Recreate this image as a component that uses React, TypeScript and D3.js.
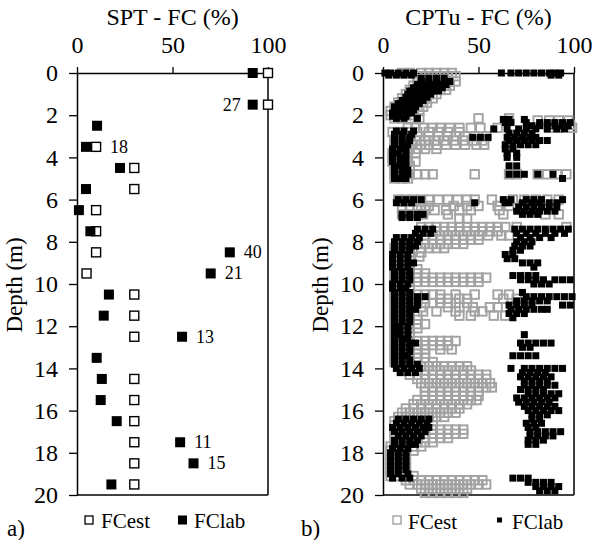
import React, { useEffect, useRef } from "react";
import * as d3 from "d3";

// ---------- Panel a) SPT ----------
const sptDepths = [0, 1.5, 2.5, 3.5, 4.5, 5.5, 6.5, 7.5, 8.5, 9.5, 10.5, 11.5, 12.5, 13.5, 14.5, 15.5, 16.5, 17.5, 18.5, 19.5];
const sptFCest: (number | null)[] = [100, 100, null, 10, 30, 30, 10, 10, 10, 5, 30, 30, 30, null, 30, 30, 30, 30, 30, 30];
const sptFClab = [92, 92, 10.5, 4.7, 22.5, 4.7, 1, 7, 80, 70, 16.7, 14, 55, 10.3, 13, 12.4, 20.8, 54, 61, 18];
const sptNoteDepths = [1.5, 3.5, 8.5, 9.5, 12.5, 17.5, 18.5];
const sptNoteTexts = ["27", "18", "40", "21", "13", "11", "15"];
const sptNoteLeft = [true, false, false, false, false, false, false];

// ---------- Panel b) CPTu : rows = [depth, FC values at that depth...] ----------
const cptuEstRows: number[][] = [
  [0.0, 10, 14, 20, 24, 28, 32, 36],
  [0.15, 18, 22, 26, 30, 34, 38],
  [0.4, 18, 22, 26, 30, 34, 38],
  [0.6, 16, 20, 24, 28, 32, 35],
  [0.8, 14, 18, 22, 26, 30, 33],
  [1.0, 12, 16, 20, 24, 28],
  [1.2, 10, 14, 18, 22, 26],
  [1.4, 8, 12, 16, 20, 23],
  [1.6, 6, 10, 14, 18, 21],
  [1.8, 4, 8, 12, 16, 19],
  [2.0, 4, 8, 12, 16],
  [2.15, 6, 10, 14, 19, 50, 66],
  [2.25, 81, 87, 92, 97],
  [2.45, 88, 93, 98],
  [2.6, 13, 17, 21, 26, 30, 35, 40, 46, 51, 60, 87, 92, 99],
  [2.8, 5, 9, 14, 18, 24, 29, 34, 40],
  [3.0, 8, 14, 19, 24, 29, 34, 38, 43, 48, 54],
  [3.2, 6, 12, 17, 22, 27, 32, 37, 42, 47, 52],
  [3.4, 6, 10, 15, 20, 24, 28, 33, 38, 43, 49, 53],
  [3.6, 6, 10, 14, 18, 22, 28],
  [3.8, 5, 9, 13, 17],
  [4.0, 5, 9, 13],
  [4.2, 5, 9, 13, 17],
  [4.4, 6, 10, 14],
  [4.6, 6, 10, 14],
  [4.8, 6, 10, 14, 18, 22, 26, 48, 66, 70, 81, 86, 91, 96],
  [5.0, 6, 10, 13],
  [6.0, 8, 12, 16, 20, 24, 29, 34, 39, 44, 48, 57, 68, 74, 80, 86, 92],
  [6.3, 20, 24, 37, 44, 50, 60, 66, 73, 82],
  [6.5, 10, 14, 18, 22, 27, 33, 40, 46, 61],
  [6.7, 10, 14, 18, 21, 34, 63, 85, 92],
  [6.9, 40, 44],
  [7.3, 20, 24, 28, 32, 36, 40, 44, 48, 52, 56, 60, 64, 70, 96],
  [7.5, 24, 28, 32, 36, 40, 44, 48, 52, 56, 60],
  [7.7, 18, 22, 26, 30, 34, 38, 42, 46, 50, 55, 62, 66],
  [7.9, 14, 18, 22, 26, 30, 34, 38, 42, 46, 50],
  [8.1, 8, 14, 18, 22, 26, 30, 34, 38, 42],
  [8.3, 6, 10, 20, 24, 28, 32],
  [8.5, 6, 10, 14, 20],
  [8.7, 6, 10, 14, 19],
  [8.9, 6, 10, 14],
  [9.1, 6, 10, 14],
  [9.3, 6, 10, 14, 18],
  [9.5, 6, 10, 14, 18, 22],
  [9.7, 6, 10, 14, 18, 22, 26, 30, 34, 38, 42, 46, 50, 54],
  [9.9, 6, 10, 14, 18, 22, 26, 30, 34, 38, 42, 46, 50],
  [10.1, 6, 10, 14],
  [10.3, 6, 10, 14],
  [10.5, 6, 10, 14, 18, 22, 26, 30, 38, 48, 60, 66],
  [10.7, 6, 10, 14, 18, 22, 30, 34, 40, 44, 63, 70],
  [10.9, 6, 10, 14, 18, 22, 26, 30, 34, 38, 44],
  [11.1, 6, 10, 14, 20, 34, 40, 47, 56, 60],
  [11.3, 6, 10, 14, 21, 28, 38, 48, 52],
  [11.5, 6, 10, 14, 18, 40, 46, 58, 64],
  [11.7, 6, 10, 14, 18],
  [11.9, 6, 10, 14, 18, 22],
  [12.1, 6, 10, 14, 18],
  [12.3, 6, 10, 14],
  [12.5, 6, 10, 14],
  [12.7, 6, 10, 14, 18, 22, 26, 30, 34, 38],
  [12.9, 6, 10, 14, 18, 22, 26, 30, 34],
  [13.1, 6, 10, 14, 18, 22, 30, 36],
  [13.3, 6, 10, 14, 18, 22],
  [13.5, 6, 10, 14, 18, 22],
  [13.7, 6, 10, 14, 18, 26],
  [13.9, 8, 12, 16, 20, 24, 28, 32, 36, 40, 44],
  [14.1, 10, 14, 18, 22, 26, 30, 34, 38, 42, 46],
  [14.3, 14, 18, 22, 26, 30, 34, 38, 42, 46, 50, 54],
  [14.5, 18, 22, 26, 30, 34, 38, 42, 46, 50, 54],
  [14.7, 20, 24, 28, 32, 36, 40, 44, 48, 52, 56],
  [14.9, 22, 26, 30, 34, 38, 42, 46, 50, 54, 57],
  [15.1, 22, 26, 30, 34, 38, 42, 46, 50],
  [15.3, 22, 26, 30, 34, 38, 42, 46, 50],
  [15.5, 18, 22, 26, 30, 34, 38, 42, 46, 49],
  [15.7, 16, 20, 24, 28, 32, 36, 40, 44],
  [15.9, 12, 16, 20, 24, 28, 32, 36, 40],
  [16.1, 10, 14, 18, 22, 26, 30, 34, 38],
  [16.3, 8, 12, 16, 20, 24, 28, 32],
  [16.5, 6, 10, 14, 18, 22, 26],
  [16.7, 6, 10, 14, 18, 22, 26],
  [16.9, 6, 10, 14, 18, 22, 26, 30, 34, 38, 42],
  [17.1, 6, 10, 14, 18, 22, 26, 30, 34, 38, 42],
  [17.3, 6, 10, 14, 18, 22, 26, 30, 34],
  [17.5, 6, 10, 14, 18, 22, 26],
  [17.7, 4, 8, 12, 16, 20],
  [17.9, 4, 8, 12, 16],
  [18.1, 4, 8, 12],
  [18.3, 4, 8, 12],
  [18.5, 4, 8, 12],
  [18.7, 4, 8, 12],
  [18.9, 4, 8, 12],
  [19.1, 4, 8, 12, 16],
  [19.3, 12, 16, 20, 24, 28, 32, 36, 40, 44, 48, 52],
  [19.5, 14, 18, 22, 26, 30, 34, 38, 42, 46, 50, 54],
  [19.7, 20, 24, 28, 32, 36, 40, 44],
  [19.9, 22, 26, 30, 34, 38, 42],
];

const cptuLabRows: number[][] = [
  [0.0, 1, 4, 8, 12, 16, 62, 67, 71, 75, 79, 83, 87, 90, 93],
  [0.1, 3, 7, 11, 15, 88, 92],
  [0.25, 20, 24, 28, 32],
  [0.4, 20, 24, 28, 32, 35],
  [0.55, 18, 22, 26, 30, 33],
  [0.7, 16, 20, 24, 28, 31],
  [0.85, 14, 18, 22, 26, 29],
  [1.0, 13, 17, 21, 25],
  [1.15, 12, 16, 20, 23],
  [1.3, 10, 14, 18, 21],
  [1.45, 8, 12, 16, 19],
  [1.6, 6, 10, 14, 17],
  [1.75, 6, 9, 13, 16],
  [1.9, 5, 8, 12, 15],
  [2.05, 5, 8, 12],
  [2.15, 7, 11, 18],
  [2.2, 63, 66, 74],
  [2.35, 64, 67, 75, 82, 86, 90, 94, 98],
  [2.5, 78, 82, 86, 90, 94, 97],
  [2.65, 58, 65, 71, 75, 80, 86, 91, 95],
  [2.75, 7, 11, 16],
  [2.85, 66, 70, 74, 78],
  [2.9, 6, 10, 15],
  [3.05, 6, 10, 14, 47, 51, 55, 65, 69, 73, 77, 80],
  [3.2, 6, 10, 14, 66, 70, 74, 78, 82, 86],
  [3.4, 6, 10, 13, 64, 68, 72, 76, 80],
  [3.6, 5, 9, 12, 64, 68],
  [3.8, 5, 8, 12, 65, 70],
  [4.0, 5, 9, 12, 65, 70],
  [4.2, 5, 9, 12],
  [4.4, 6, 9, 12, 66, 70],
  [4.6, 6, 10, 13],
  [4.8, 6, 10, 13, 66, 70, 74, 81, 89],
  [5.0, 6, 9, 12, 94],
  [6.0, 8, 12, 16, 20, 63, 67, 75, 79, 83, 94],
  [6.15, 7, 11, 15, 48, 64, 66, 73, 78, 82, 87, 91],
  [6.35, 71, 75, 79, 83, 87, 91],
  [6.55, 70, 74, 78, 82, 86, 90],
  [6.7, 10, 14, 18, 21, 73, 77, 81],
  [6.85, 10, 14, 18],
  [7.4, 18, 22, 26, 69, 73, 77, 81, 85, 89, 93, 97],
  [7.6, 17, 21, 25, 70, 75, 80, 85, 90, 95],
  [7.8, 7, 11, 15, 19, 72, 77, 82, 88],
  [8.0, 6, 10, 14, 18, 70, 74, 78],
  [8.2, 6, 10, 14, 17, 69, 73, 77],
  [8.4, 6, 10, 14, 68, 72],
  [8.6, 5, 9, 13, 64, 68],
  [8.8, 5, 9, 13, 65, 69],
  [9.0, 5, 9, 13, 16, 73, 77, 81],
  [9.2, 5, 9, 13, 79],
  [9.4, 6, 10, 14],
  [9.6, 6, 10, 14, 68, 72, 76, 80],
  [9.8, 6, 10, 14, 72, 76, 80, 84, 90, 94, 98],
  [10.0, 5, 9, 13, 79, 83, 87],
  [10.2, 5, 9, 12],
  [10.4, 6, 10, 14, 73],
  [10.6, 6, 10, 14, 18, 22, 75, 79, 83, 87, 91, 95, 99],
  [10.8, 6, 10, 14, 18, 70, 74, 78, 82, 86],
  [11.0, 6, 10, 14, 18, 66, 70, 74, 78, 94, 98],
  [11.2, 6, 10, 14, 17, 67, 71, 75, 79, 83, 86],
  [11.4, 6, 10, 14, 66, 70, 74],
  [11.6, 6, 10, 14, 68],
  [11.8, 6, 10, 14],
  [12.0, 6, 9, 13],
  [12.2, 6, 9, 13],
  [12.4, 6, 9, 13, 74],
  [12.6, 6, 10, 13],
  [12.8, 6, 10, 14, 17, 72, 76, 80, 84, 88],
  [13.0, 6, 10, 14, 73, 77],
  [13.2, 6, 10, 14],
  [13.4, 6, 10, 13, 68, 72, 76, 80],
  [13.6, 6, 10, 14],
  [13.8, 6, 10, 14, 18],
  [14.0, 7, 11, 15, 19, 67, 74, 78, 82, 86, 90, 94],
  [14.2, 9, 13, 17, 73, 77, 81, 85],
  [14.4, 72, 76, 80, 84, 88],
  [14.6, 74, 78, 82, 86],
  [14.8, 74, 78, 82, 86, 90],
  [15.0, 72, 76, 80, 84],
  [15.2, 76, 80, 84, 88, 92],
  [15.4, 70, 74, 78, 82, 86, 90],
  [15.6, 71, 75, 79, 83, 87],
  [15.8, 74, 78, 82, 86, 90],
  [16.0, 76, 80, 84, 88, 92],
  [16.2, 78, 82, 86],
  [16.4, 8, 12, 16, 20, 24, 78, 82],
  [16.6, 7, 11, 15, 19, 23, 75, 79, 83],
  [16.8, 5, 9, 13, 17, 21, 24, 76, 80],
  [17.0, 6, 10, 14, 18, 22, 77, 81, 85, 89, 93],
  [17.2, 8, 12, 16, 20, 77, 81, 85, 89],
  [17.4, 6, 10, 14, 18, 76, 80, 84],
  [17.6, 6, 10, 14, 17, 76, 80],
  [17.8, 5, 9, 13],
  [18.0, 4, 8, 12],
  [18.2, 4, 8, 12],
  [18.4, 4, 8, 12],
  [18.6, 4, 8, 12],
  [18.8, 4, 8, 12],
  [19.0, 4, 8, 13],
  [19.2, 5, 10, 14, 68, 72, 76],
  [19.4, 76, 80, 84, 88],
  [19.6, 80, 84, 88, 92],
  [19.8, 82, 86, 90],
];

const xTicks = [0, 50, 100];
const depthTicks = [0, 2, 4, 6, 8, 10, 12, 14, 16, 18, 20];
const seriesNames = ["FCest", "FClab"];

const FONT = "Liberation Serif, Times New Roman, serif";
const GRAY = "#a2a2a2";

function flatten(rows: number[][]) {
  return rows.flatMap((r) => r.slice(1).map((v) => ({ depth: r[0], fc: v })));
}

export default function App() {
  const ref = useRef<SVGSVGElement>(null);

  useEffect(() => {
    const svg = d3.select(ref.current);
    svg.selectAll("*").remove();

    const y = d3.scaleLinear().domain([0, 20]).range([73, 495]);

    const txt = (sel: any, size: number) =>
      sel.attr("font-family", null).style("font-family", FONT).style("font-size", `${size}px`).attr("fill", "#000");

    const drawFrame = (x: d3.ScaleLinear<number, number>, title: string, letter: string, xOff: number, letterX: number) => {
      const g = svg.append("g");
      g.append("line").attr("x1", x(100)).attr("x2", x(100)).attr("y1", y(0)).attr("y2", y(20))
        .attr("stroke", "#000").attr("stroke-width", 1.5);
      g.append("line").attr("x1", x(0)).attr("x2", x(100)).attr("y1", y(20)).attr("y2", y(20))
        .attr("stroke", "#000").attr("stroke-width", 1.5);
      const gx = g.append("g").attr("transform", `translate(0,${y(0)})`)
        .call(d3.axisTop(x).tickValues(xTicks).tickSize(6).tickSizeOuter(0).tickPadding(14).tickFormat(d3.format("d")));
      const gy = g.append("g").attr("transform", `translate(${x(0)},0)`)
        .call(d3.axisLeft(y).tickValues(depthTicks).tickSize(8).tickSizeOuter(0).tickPadding(11).tickFormat(d3.format("d")));
      [gx, gy].forEach((ax) => {
        ax.attr("font-family", null).attr("font-size", null);
        ax.select(".domain").attr("stroke-width", 1.5);
        ax.selectAll(".tick line").attr("stroke-width", 1.3);
        txt(ax.selectAll("text"), 24);
      });
      txt(g.append("text").attr("x", (x(0) + x(100)) / 2).attr("y", 25).attr("text-anchor", "middle").text(title), 24);
      txt(g.append("text").attr("transform", `translate(${22 + xOff},285) rotate(-90)`).attr("text-anchor", "middle").text("Depth (m)"), 23);
      txt(g.append("text").attr("x", letterX).attr("y", 536).text(letter), 23);
      return g;
    };

    // ---------- Panel a ----------
    const xa = d3.scaleLinear().domain([0, 100]).range([77, 268]);
    const ga = drawFrame(xa, "SPT - FC (%)", "a)", 0, 7);
    const estPts = sptDepths.map((d, i) => ({ depth: d, fc: sptFCest[i] })).filter((p) => p.fc !== null) as { depth: number; fc: number }[];
    const labPts = sptDepths.map((d, i) => ({ depth: d, fc: sptFClab[i] }));
    const so = 9;
    ga.append("g").selectAll("rect").data(estPts).join("rect")
      .attr("x", (d) => xa(d.fc) - so / 2).attr("y", (d) => y(d.depth) - so / 2)
      .attr("width", so).attr("height", so).attr("fill", "#fff").attr("stroke", "#000").attr("stroke-width", 1.4);
    const sf = 10;
    ga.append("g").selectAll("rect").data(labPts).join("rect")
      .attr("x", (d) => xa(d.fc) - sf / 2).attr("y", (d) => y(d.depth) - sf / 2)
      .attr("width", sf).attr("height", sf).attr("fill", "#000");
    txt(ga.append("g").selectAll("text").data(sptNoteDepths).join("text")
      .attr("x", (d, i) => {
        const k = sptDepths.indexOf(d);
        if (sptNoteLeft[i]) return xa(sptFClab[k]) - 12;
        const m = Math.max(sptFClab[k], sptFCest[k] ?? 0);
        return xa(m) + 14;
      })
      .attr("y", (d) => y(d) + 6)
      .attr("text-anchor", (d, i) => (sptNoteLeft[i] ? "end" : "start"))
      .text((d, i) => sptNoteTexts[i]), 18);

    // legend a
    const la = ga.append("g");
    la.append("rect").attr("x", 85).attr("y", 516).attr("width", 8).attr("height", 8)
      .attr("fill", "#fff").attr("stroke", "#000").attr("stroke-width", 1.3);
    txt(la.append("text").attr("x", 101).attr("y", 528).text(seriesNames[0]), 21);
    la.append("rect").attr("x", 178).attr("y", 515.5).attr("width", 9).attr("height", 9).attr("fill", "#000");
    txt(la.append("text").attr("x", 194).attr("y", 528).text(seriesNames[1]), 21);

    // ---------- Panel b ----------
    const xb = d3.scaleLinear().domain([0, 100]).range([383, 574]);
    const gb = drawFrame(xb, "CPTu - FC (%)", "b)", 306, 301);
    const cEst = flatten(cptuEstRows);
    const cLab = flatten(cptuLabRows);
    const go = 8.5;
    gb.append("g").selectAll("rect").data(cEst).join("rect")
      .attr("x", (d) => xb(d.fc) - go / 2).attr("y", (d) => y(d.depth) - go / 2)
      .attr("width", go).attr("height", go).attr("fill", "none").attr("stroke", GRAY).attr("stroke-width", 1.9);
    const gf = 7;
    gb.append("g").selectAll("rect").data(cLab).join("rect")
      .attr("x", (d) => xb(d.fc) - gf / 2).attr("y", (d) => y(d.depth) - gf / 2)
      .attr("width", gf).attr("height", gf).attr("fill", "#000");

    const lb = gb.append("g");
    lb.append("rect").attr("x", 393).attr("y", 516).attr("width", 8).attr("height", 8)
      .attr("fill", "#fff").attr("stroke", GRAY).attr("stroke-width", 1.4);
    txt(lb.append("text").attr("x", 408).attr("y", 529).text(seriesNames[0]), 21);
    lb.append("rect").attr("x", 497).attr("y", 517.5).attr("width", 5).attr("height", 5).attr("fill", "#000");
    txt(lb.append("text").attr("x", 512).attr("y", 529).text(seriesNames[1]), 21);
  }, []);

  return (
    <svg ref={ref} width={595} height={540} style={{ position: "absolute", left: 0, top: 0, background: "#fff" }} />
  );
}
